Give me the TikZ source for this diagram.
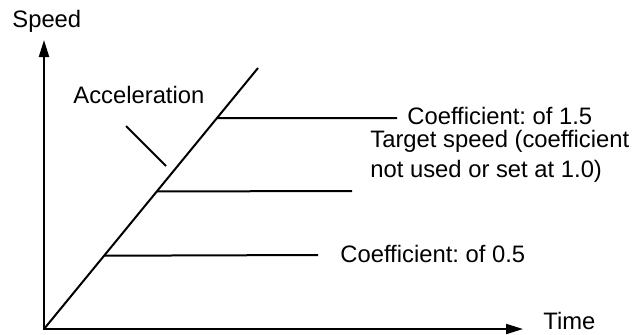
\documentclass[tikz,border=0pt]{standalone}
\usepackage{fontspec}
\setmainfont{Liberation Sans}
\usetikzlibrary{arrows.meta,calc}
\frenchspacing
\begin{document}
\begin{tikzpicture}[x=0.5pt,y=-0.5pt,
  ln/.style={line width=1pt,black},
  lbl/.style={inner sep=0pt,anchor=base west,font=\fontsize{11.9}{15}\selectfont,align=left},
  axtip/.tip={Triangle[length=8.5pt,width=5pt]}]
\useasboundingbox (0,0) rectangle (635,334);
% axes
\coordinate (O) at (44,329);
\coordinate (ytip) at (44,40);
\coordinate (xtip) at (523,329);
\coordinate (D) at (258,68);
\draw[ln,axtip-axtip] (ytip) -- (O) -- (xtip);
% acceleration line
\draw[ln] (O) -- (D);
% labels
\node[lbl] (speed) at (12,27) {Speed};
\node[lbl] (time) at (543,329) {Time};
\node[lbl] (acc) at (73,103) {Acceleration};
\node[lbl] (c15) at (407,124) {Coefficient: of 1.5};
\node[lbl] (tgt) at (370,177) {Target speed (coefficient\\not used or set at 1.0)};
\node[lbl] (c05) at (340,262) {Coefficient: of 0.5};
% level lines
\coordinate (p15) at ($(O)!0.8077!(D)$);
\coordinate (p10) at ($(O)!0.527!(D)$);
\coordinate (p05) at ($(O)!0.2808!(D)$);
\coordinate (e15) at (397,118);
\coordinate (e10) at (352,191);
\coordinate (e05) at (318,255);
\draw[ln] (p15) -- (e15);
\draw[ln] (p10) -- (e10);
\draw[ln] (p05) -- (e05);
% pointer from label to line
\coordinate (a1) at (126,126);
\coordinate (a2) at (166,166);
\draw[ln] (a1) -- (a2);
\end{tikzpicture}
\end{document}
